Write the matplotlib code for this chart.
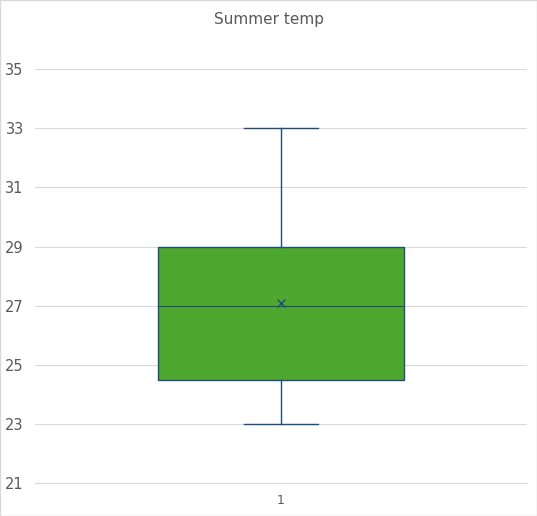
import matplotlib
matplotlib.use("Agg")
import matplotlib.pyplot as plt
from matplotlib.patches import Rectangle

# ── Data ──────────────────────────────────────────────────────────────────────
categories = ["1"]
q1 = [24.5]
median = [27]
q3 = [29]
whisker_low = [23]
whisker_high = [33]
mean = [27.1]
y_ticks = [21, 23, 25, 27, 29, 31, 33, 35]

EDGE = "#1F4E79"
FILL = "#4EA72E"
GRID = "#D9D9D9"
TEXT = "#595959"

fig = plt.figure(figsize=(5.37, 5.16), dpi=100)
fig.patches.append(Rectangle((0, 0), 1, 1, transform=fig.transFigure,
                             fill=False, edgecolor=GRID, linewidth=1))
ax = fig.add_axes([0.065, 0.064, 0.916, 0.802])

stats = []
for i, lab in enumerate(categories):
    stats.append({"label": lab, "q1": q1[i], "med": median[i], "q3": q3[i],
                  "whislo": whisker_low[i], "whishi": whisker_high[i],
                  "mean": mean[i], "fliers": []})

ax.bxp(stats, positions=[1], widths=0.5, patch_artist=True, showmeans=True,
       boxprops=dict(facecolor=FILL, edgecolor=EDGE, linewidth=1),
       medianprops=dict(color=EDGE, linewidth=0.8),
       whiskerprops=dict(color=EDGE, linewidth=1),
       capprops=dict(color=EDGE, linewidth=1),
       capwidths=0.15,
       meanprops=dict(marker="x", markeredgecolor=EDGE, markersize=6))

ax.set_xlim(0.5, 1.5)
ax.set_ylim(21, 35)
ax.set_yticks(y_ticks)
ax.yaxis.grid(True, color=GRID, linewidth=0.8)
ax.set_axisbelow(True)
for s in ["top", "right", "left"]:
    ax.spines[s].set_visible(False)
ax.spines["bottom"].set_color(GRID)
ax.tick_params(axis="y", length=0, labelsize=10.5, colors=TEXT, pad=8)
ax.tick_params(axis="x", length=0, labelsize=9, colors=TEXT, pad=8)

fig.text(0.5, 0.963, "Summer temp", ha="center", va="center",
         fontsize=11, color=TEXT)

fig.savefig("out.png", dpi=100)
